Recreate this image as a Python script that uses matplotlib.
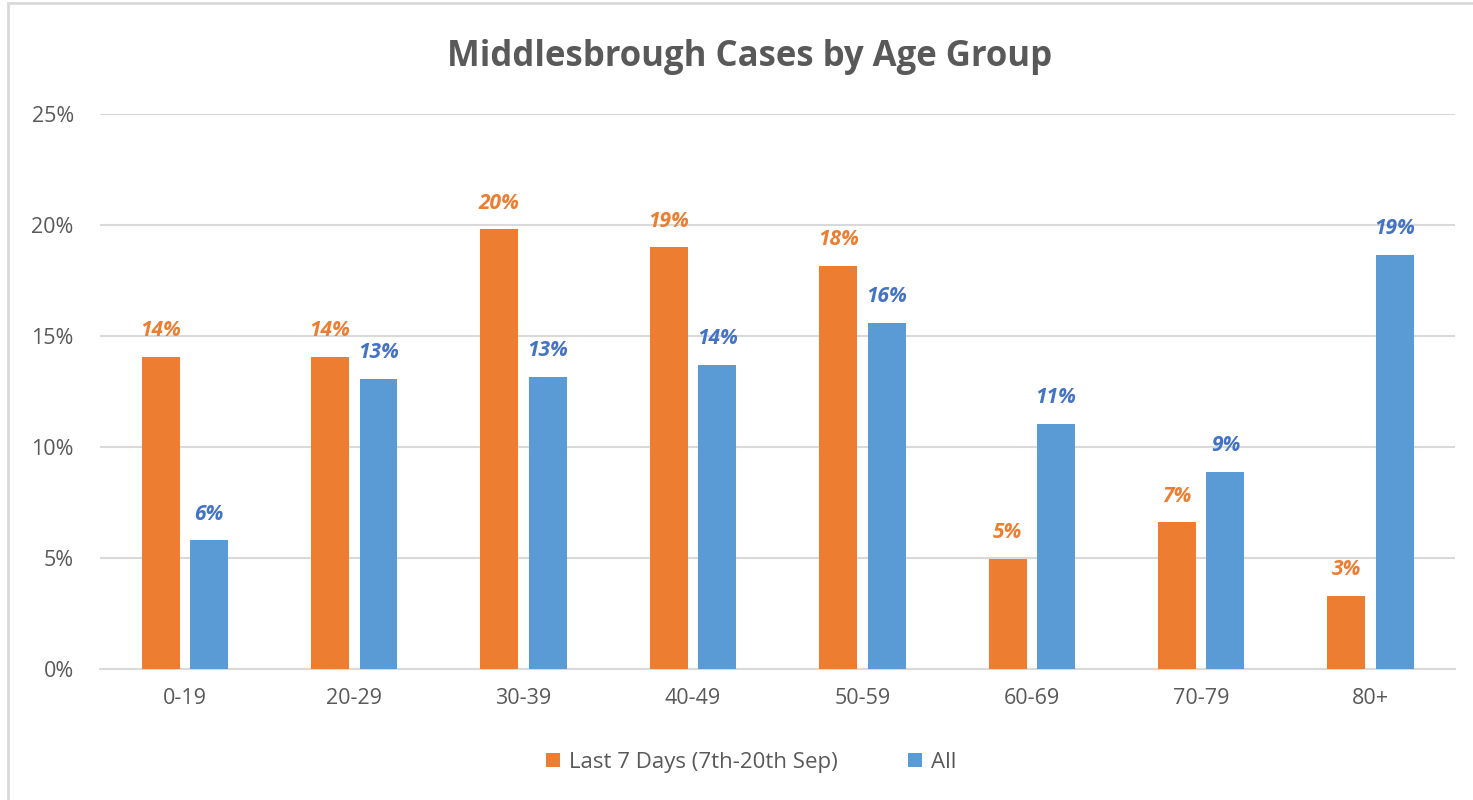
import matplotlib.pyplot as plt
import numpy as np
from matplotlib.patches import Rectangle
from matplotlib.ticker import FuncFormatter

plt.rcParams['font.family'] = ['Open Sans', 'DejaVu Sans']

age_groups = ['0-19', '20-29', '30-39', '40-49', '50-59', '60-69', '70-79', '80+']
last_7_days = [14.05, 14.05, 19.8, 19.0, 18.15, 4.95, 6.6, 3.3]
all_cases = [5.8, 13.06, 13.15, 13.7, 15.6, 11.04, 8.87, 18.65]
last_7_labels = ['14%', '14%', '20%', '19%', '18%', '5%', '7%', '3%']
all_labels = ['6%', '13%', '13%', '14%', '16%', '11%', '9%', '19%']

orange = '#ED7D31'
blue = '#5B9BD5'
blue_text = '#4472C4'
grey = '#595959'
grid = '#D9D9D9'

fig = plt.figure(figsize=(14.73, 8), dpi=100)
ax = fig.add_axes([0.068, 0.164, 0.92, 0.6935])

x = np.arange(len(age_groups))
w = 0.224
off = 0.143
b1 = ax.bar(x - off, last_7_days, w, color=orange, label='Last 7 Days (7th-20th Sep)', zorder=3)
b2 = ax.bar(x + off, all_cases, w, color=blue, label='All', zorder=3)

# data labels above each bar
for rect, lab in zip(b1, last_7_labels):
    ax.text(rect.get_x() + rect.get_width() / 2, rect.get_height() + 0.7, lab,
            ha='center', va='bottom', color=orange, fontsize=15,
            fontweight='bold', fontstyle='italic', zorder=4)
for rect, lab in zip(b2, all_labels):
    ax.text(rect.get_x() + rect.get_width() / 2, rect.get_height() + 0.7, lab,
            ha='center', va='bottom', color=blue_text, fontsize=15,
            fontweight='bold', fontstyle='italic', zorder=4)

ax.set_xlim(-0.5, len(age_groups) - 0.5)
ax.set_ylim(0, 25)
ax.set_yticks(np.arange(0, 26, 5))
ax.yaxis.set_major_formatter(FuncFormatter(lambda v, p: f'{v:.0f}%'))
ax.set_xticks(x)
ax.set_xticklabels(age_groups)
ax.tick_params(axis='both', length=0, labelsize=15.5, colors=grey)
ax.tick_params(axis='y', pad=19)
ax.tick_params(axis='x', pad=14)
ax.yaxis.grid(True, color=grid, linewidth=1.5, zorder=0)
for s in ['top', 'right', 'left']:
    ax.spines[s].set_visible(False)
ax.spines['bottom'].set_color(grid)
ax.spines['bottom'].set_linewidth(1.5)

fig.text(0.509, 0.929, 'Middlesbrough Cases by Age Group', ha='center', va='center',
         fontsize=25, fontweight='bold', color=grey)

leg = fig.legend(loc='center', bbox_to_anchor=(0.51, 0.047), ncol=2, frameon=False,
                 fontsize=16, handlelength=0.6, handleheight=0.6, columnspacing=3.2,
                 handletextpad=0.4)
for t in leg.get_texts():
    t.set_color(grey)

# chart border (only top and left edges visible in the crop)
fig.add_artist(Rectangle((8 / 1473, -0.1), 1.2, 1.1 - 3 / 800, transform=fig.transFigure,
                         fill=False, edgecolor=grid, linewidth=2))

fig.savefig('out.png', dpi=100)
